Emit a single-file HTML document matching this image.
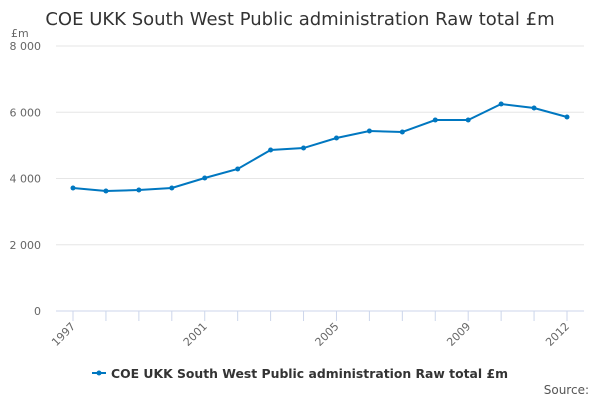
<!DOCTYPE html>
<html><head><meta charset="utf-8"><style>
body{margin:0;background:#fff;font-family:"Liberation Sans","DejaVu Sans",sans-serif;}
svg text{font-family:"DejaVu Sans","Liberation Sans",sans-serif;}
</style></head><body>
<svg id="c" width="600" height="400">
<text x="300" y="25" text-anchor="middle" font-size="18" fill="#333">COE UKK South West Public administration Raw total £m</text>
<text x="11" y="37" font-size="11" fill="#666">£m</text>
<g id="grid"></g><g id="xax"></g><g id="series"></g>
<g>
<line x1="92" y1="373" x2="106" y2="373" stroke="#0077c0" stroke-width="2"/>
<circle cx="99" cy="373" r="2.5" fill="#0077c0"/>
<text x="111" y="378" font-size="12.4" font-weight="bold" fill="#333">COE UKK South West Public administration Raw total £m</text>
</g>
<text x="589" y="394" text-anchor="end" font-size="12" fill="#555">Source:</text>
</svg>
<script>
const years=[1997,1998,1999,2000,2001,2002,2003,2004,2005,2006,2007,2008,2009,2010,2011,2012];
const values=[3713,3623,3653,3713,4015,4287,4860,4920,5223,5434,5404,5766,5766,6249,6128,5857];
const yTicks=[0,2000,4000,6000,8000];
const yTickLabels=["0","2 000","4 000","6 000","8 000"];
const xTickLabels=[1997,2001,2005,2009,2012];
const NS="http://www.w3.org/2000/svg";
const X=y=>73+(y-1997)*(567-73)/15;
const Y=v=>311-v*(311-46)/8000;
function mk(t,a,p){const e=document.createElementNS(NS,t);for(const k in a)e.setAttribute(k,a[k]);p.appendChild(e);return e;}
const g=document.getElementById('grid');
yTicks.forEach((t,i)=>{
 const l=mk('line',{x1:56,x2:584,y1:Y(t),y2:Y(t),stroke:t===0?'#ccd6eb':'#e6e6e6'},g);
 
 
 const tx=mk('text',{x:41,y:Y(t)+4,'text-anchor':'end','font-size':11,fill:'#666'},g);
 tx.textContent=yTickLabels[i];
 
 
});
const xa=document.getElementById('xax');
years.forEach(y=>{
 const l=mk('line',{x1:X(y),x2:X(y),y1:311,y2:321,stroke:'#ccd6eb'},xa);
 
 
});
xTickLabels.forEach(y=>{
 const tx=mk('text',{x:X(y)+3,y:327,'text-anchor':'end','font-size':11,fill:'#666',transform:`rotate(-45 ${X(y)+3} 327)`},xa);
 tx.textContent=y;
 
 
});
const s=document.getElementById('series');
const pl=mk('polyline',{points:years.map((y,i)=>X(y)+','+Y(values[i])).join(' '),fill:'none',stroke:'#0077c0','stroke-width':2},s);


years.forEach((y,i)=>{
 const c=mk('circle',{cx:X(y),cy:Y(values[i]),r:2.5,fill:'#0077c0'},s);
 
 
});
</script>
</body></html>
